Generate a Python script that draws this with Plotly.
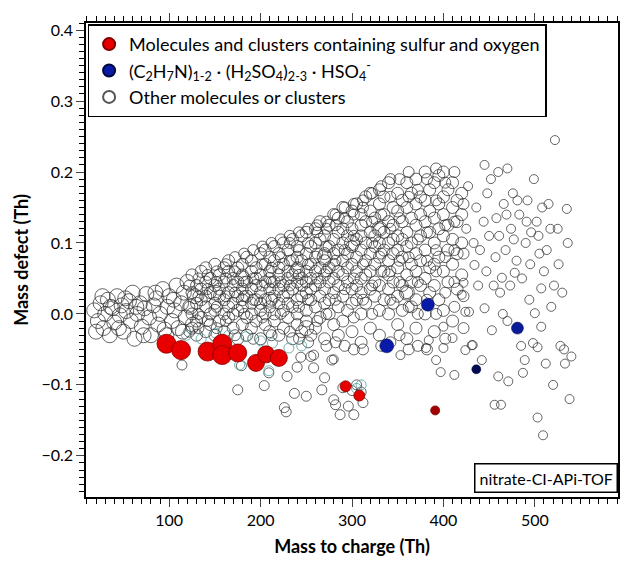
import plotly.graph_objects as go

# ---------------- data ----------------
red_mz = [97, 113, 142, 158, 158, 175, 195, 206, 220, 293, 308, 391]
red_md = [-0.042, -0.051, -0.053, -0.042, -0.058, -0.055, -0.069, -0.057, -0.062, -0.102, -0.115, -0.136]

blue_mz = [383, 338, 436, 481]
blue_md = [0.013, -0.045, -0.078, -0.020]

big_mz = [18, 22, 25, 28, 30, 33, 35, 38, 40, 43, 46, 48, 50, 53, 56, 58, 60, 62, 65, 68, 70, 73, 75, 78, 80,
          83, 86, 88, 90, 93, 95, 98, 100, 103, 106, 108, 110, 113, 116, 118, 120, 123, 126, 128,
          150, 180, 210, 240, 270, 300, 330, 360, 250,
          20, 27, 36, 45, 52, 64, 72, 85, 97, 105, 115]
big_md = [0.005, -0.01, 0.015, -0.02, 0.0, 0.02, -0.03, 0.008, -0.012, 0.025, -0.002, 0.012, -0.025, 0.004, 0.018,
          -0.01, 0.03, -0.035, 0.0, 0.015, -0.018, 0.008, 0.028, -0.005, -0.03, 0.012, 0.022, -0.015, 0.0, 0.035,
          -0.022, 0.01, 0.025, -0.01, 0.005, 0.04, -0.02, 0.015, 0.03, -0.005, 0.045, 0.01, -0.015, 0.025,
          0.03, 0.05, 0.02, 0.06, 0.08, 0.1, 0.12, 0.03, -0.02,
          -0.025, 0.025, 0.01, -0.02, 0.022, 0.01, -0.03, 0.03, -0.03, 0.02, -0.025]

cloud_cols = {
    125: [0.03, -0.02, 0.055, 0.0],
    130: [-0.01, 0.04, 0.015, -0.03],
    135: [0.02, 0.06, -0.005, 0.035],
    140: [-0.025, 0.01, 0.045, 0.025, 0.065],
    145: [0.0, 0.03, -0.015, 0.05],
    150: [0.015, -0.03, 0.04, 0.07, 0.005],
    155: [0.025, -0.01, 0.055, 0.035],
    160: [0.0, 0.045, -0.025, 0.02, 0.065],
    165: [0.03, 0.01, -0.005, 0.06, 0.075],
    170: [-0.02, 0.04, 0.015, 0.05, 0.0],
    175: [0.025, -0.035, 0.065, 0.005, 0.045],
    180: [0.01, 0.035, -0.015, 0.07, 0.055, 0.02],
    185: [-0.005, 0.045, 0.025, 0.08, -0.03],
    190: [0.015, 0.06, 0.0, 0.035, -0.02, 0.075],
    195: [0.04, -0.01, 0.02, 0.065, 0.05],
    200: [0.005, 0.03, 0.085, -0.035, 0.055, 0.015],
    205: [0.045, 0.02, -0.015, 0.07, 0.0, 0.09],
    210: [0.035, -0.025, 0.06, 0.01, 0.08, 0.05],
    215: [0.025, 0.0, 0.075, 0.045, -0.01, 0.095],
    220: [0.055, 0.015, -0.03, 0.085, 0.035, 0.065],
    225: [0.005, 0.04, 0.1, 0.07, -0.02, 0.025],
    230: [0.05, 0.09, 0.015, -0.005, 0.06, 0.03],
    235: [0.075, 0.035, -0.035, 0.105, 0.01, 0.055],
    240: [0.02, 0.065, 0.095, 0.0, 0.045, 0.08, -0.015],
    245: [0.11, 0.05, 0.025, -0.025, 0.075, 0.04],
    250: [0.085, 0.005, 0.06, 0.03, 0.115, -0.01, 0.045],
    255: [0.02, 0.095, 0.07, -0.03, 0.05, 0.035],
    260: [0.12, 0.04, 0.08, 0.01, 0.06, -0.02, 0.1],
    265: [0.025, 0.065, 0.105, -0.005, 0.045, 0.13],
    270: [0.085, 0.015, 0.055, 0.11, -0.035, 0.035, 0.075],
    275: [0.0, 0.095, 0.045, 0.125, 0.065, 0.02],
    280: [0.14, 0.07, 0.03, -0.015, 0.105, 0.05, 0.085],
    285: [0.01, 0.115, 0.06, 0.04, 0.135, -0.03, 0.09],
    290: [0.075, 0.025, 0.12, 0.15, 0.055, 0.1, -0.01],
    295: [0.045, 0.13, 0.005, 0.085, 0.065, 0.11],
    300: [0.145, 0.035, 0.095, -0.025, 0.07, 0.12, 0.015],
    305: [0.06, 0.105, 0.155, 0.02, 0.08, 0.04],
    310: [0.125, 0.0, 0.09, 0.05, 0.14, 0.03, 0.11, -0.04],
    315: [0.075, 0.165, 0.015, 0.1, 0.055, 0.13],
    320: [0.035, 0.115, 0.085, 0.145, -0.02, 0.06, 0.17],
    325: [0.095, 0.025, 0.135, 0.07, 0.045, 0.11],
    330: [0.155, 0.005, 0.08, 0.12, 0.04, 0.175, 0.1, -0.03],
    335: [0.06, 0.14, 0.02, 0.09, 0.165, 0.115],
    340: [0.13, 0.075, 0.035, 0.185, 0.1, 0.0, 0.055],
    345: [0.105, 0.15, 0.045, 0.085, 0.015, 0.125],
    350: [0.17, 0.065, 0.11, 0.025, 0.145, -0.015, 0.09],
    355: [0.04, 0.13, 0.08, 0.16, 0.005, 0.105],
    360: [0.115, 0.185, 0.055, 0.095, 0.03, 0.15, -0.035],
    365: [0.07, 0.135, 0.01, 0.17, 0.045, 0.1],
    370: [0.155, 0.085, 0.02, 0.125, 0.06, -0.02, 0.19],
    375: [0.11, 0.04, 0.14, 0.075, 0.165],
    380: [0.2, 0.05, 0.13, 0.09, 0.0, 0.16],
    385: [0.065, 0.115, 0.175, 0.03, 0.145],
    390: [0.185, 0.1, 0.04, 0.135, 0.07, -0.025],
    395: [0.155, 0.08, 0.12, 0.02, 0.195],
    400: [0.11, 0.06, 0.165, 0.005, 0.14, 0.2],
    405: [0.09, 0.175, 0.045, 0.125],
    410: [0.15, 0.07, 0.105, -0.01, 0.185],
    415: [0.13, 0.035, 0.16, 0.085],
    420: [0.1, 0.17, 0.055, 0.14],
}

cloud2_cols = {
    122: [0.01, 0.04, -0.025],
    132: [0.05, 0.0, 0.025, -0.02],
    142: [0.035, -0.01, 0.055],
    152: [0.06, 0.01, -0.02, 0.045],
    162: [0.025, 0.07, -0.01, 0.05],
    172: [0.06, 0.03, 0.08, -0.03],
    182: [0.045, 0.0, 0.085, 0.025],
    192: [0.09, 0.05, 0.02, -0.035],
    202: [0.07, 0.04, 0.095, -0.005],
    212: [0.1, 0.065, 0.02, -0.03, 0.045],
    222: [0.105, 0.08, 0.045, 0.0],
    232: [0.11, 0.075, 0.04, -0.025, 0.1],
    242: [0.115, 0.055, 0.01, 0.09, -0.035],
    252: [0.12, 0.1, 0.07, 0.02, -0.04],
    262: [0.125, 0.085, 0.05, 0.115, -0.01],
    272: [0.13, 0.12, 0.095, 0.06, 0.0, -0.045],
    282: [0.14, 0.125, 0.02, 0.075, -0.04],
    292: [0.15, 0.135, 0.09, 0.035, -0.045],
    302: [0.155, 0.14, 0.11, 0.05, -0.005, -0.05],
    312: [0.16, 0.15, 0.07, 0.02, -0.05],
    322: [0.17, 0.1, 0.13, 0.04, 0.0],
    332: [0.18, 0.14, 0.06, 0.085, -0.045],
    342: [0.165, 0.19, 0.12, 0.06, -0.04, 0.02],
    352: [0.19, 0.135, 0.075, 0.045, -0.03],
    362: [0.2, 0.165, 0.08, 0.01, -0.05],
    372: [0.175, 0.105, 0.045, -0.045, 0.0],
    382: [0.19, 0.115, 0.075, 0.02, -0.05],
    392: [0.205, 0.16, 0.06, 0.0, 0.09],
    402: [0.185, 0.125, 0.08, 0.03, -0.035],
    412: [0.13, 0.2, 0.045, 0.09, 0.01],
    422: [0.155, 0.085, 0.025, -0.02],
}

sparse_mz = [425, 428, 432, 434, 436, 440, 442, 445, 448, 450, 453, 455, 456, 458, 460, 462, 463, 464, 466, 468,
             470, 471, 474, 476, 478, 480, 483, 485, 487, 489, 490, 492, 494, 496, 498, 500, 502, 503, 503, 505,
             507, 507, 509, 510, 512, 515, 518, 520, 522, 525, 528, 530, 532, 535, 538, 540,
             400, 410, 392, 412, 397, 384, 381, 400, 353, 280, 424, 431, 420, 422, 424,
             427, 433, 438, 444, 447, 452, 457, 461, 465, 469, 473, 477, 481, 486, 491, 495, 499, 504, 508,
             513, 517, 521, 526, 533, 536, 470, 445, 460]
sparse_md = [0.12, 0.003, -0.044, 0.069, 0.15, 0.09, -0.065, 0.008, 0.17, 0.11, -0.023, 0.04, -0.128, 0.135,
             -0.088, 0.03, -0.128, 0.051, 0.155, 0.09, -0.01, -0.095, 0.12, 0.17, 0.058, 0.075, 0.14, -0.045,
             -0.083, -0.065, 0.1, 0.16, 0.02, 0.115, -0.041, 0.001, 0.13, -0.047, -0.146, 0.085, 0.036, -0.018,
             -0.171, 0.06, -0.07, 0.155, 0.01, -0.1, 0.245, 0.12, -0.045, 0.03, -0.05, 0.148, -0.12, -0.06,
             -0.018, -0.034, -0.065, -0.086, -0.082, -0.037, -0.048, -0.048, -0.058, -0.064, -0.051, -0.044,
             0.027, 0.044, 0.003,
             0.18, 0.1, 0.04, 0.13, 0.06, 0.19, 0.08, 0.11, 0.0, 0.14, 0.04, 0.105, 0.16, 0.05, 0.13, 0.07,
             0.19, 0.11, 0.15, 0.09, 0.12, 0.04, 0.07, -0.07, 0.1, 0.205, 0.21, 0.2]

low_mz = [114, 179, 209, 229, 175, 204, 250, 237, 226, 228, 267, 280, 287, 302, 282, 258, 278, 255, 258, 244,
          290, 300, 305, 310, 312, 296, 270, 240]
low_md = [-0.072, -0.073, -0.083, -0.088, -0.107, -0.101, -0.116, -0.112, -0.132, -0.138, -0.107, -0.121,
          -0.142, -0.142, -0.128, -0.058, -0.065, -0.06, -0.076, -0.061, -0.104, -0.108, -0.1, -0.11, -0.125,
          -0.13, -0.09, -0.075]

teal_mz = [119, 151, 184, 213, 231, 177, 209, 135, 165, 200, 245, 310, 305]
teal_md = [-0.03, -0.027, -0.032, -0.041, -0.048, -0.072, -0.08, -0.035, -0.03, -0.038, -0.045, -0.1, -0.105]

# ---------------- styles ----------------
red_sizes = [19, 19, 19, 19, 19, 18, 17, 17, 17, 11, 11, 9]
red_colors = ["#e80000"] * 11 + ["#a00000"]
blue_sizes = [13, 14, 9, 12]
blue_colors = ["#0a1aa8", "#0a1aa8", "#000a50", "#0a1a98"]


def flatten(cols):
    xs, ys = [], []
    for m, vals in cols.items():
        for v in vals:
            xs.append(m)
            ys.append(v)
    return xs, ys


c1x, c1y = flatten(cloud_cols)
c2x, c2y = flatten(cloud2_cols)

gray = "rgba(50,50,50,0.75)"
fig = go.Figure()


def hollow(x, y, size, color=gray):
    fig.add_trace(go.Scatter(x=x, y=y, mode="markers", showlegend=False, hoverinfo="skip",
                             marker=dict(symbol="circle-open", size=size, color=color, line=dict(width=1))))


hollow(big_mz, big_md, 15)
hollow(c1x, c1y, 12)
hollow(c2x, c2y, 11)
hollow(sparse_mz, sparse_md, 9)
hollow(low_mz, low_md, 10)
hollow(teal_mz, teal_md, 10, "rgba(80,160,160,0.8)")

fig.add_trace(go.Scatter(x=red_mz, y=red_md, mode="markers",
                         name="Molecules and clusters containing sulfur and oxygen",
                         marker=dict(size=red_sizes, color=red_colors, opacity=1,
                                     line=dict(width=0.8, color="#800000"))))
fig.add_trace(go.Scatter(x=blue_mz, y=blue_md, mode="markers",
                         name="(C<sub>2</sub>H<sub>7</sub>N)<sub>1-2</sub> · (H<sub>2</sub>SO<sub>4</sub>)<sub>2-3</sub> · HSO<sub>4</sub><sup>-</sup>",
                         marker=dict(size=blue_sizes, color=blue_colors, opacity=1,
                                     line=dict(width=0.5, color="#000840"))))
fig.add_trace(go.Scatter(x=[None], y=[None], mode="markers", name="Other molecules or clusters",
                         marker=dict(symbol="circle-open", size=12, color="#555", line=dict(width=1))))

font_family = "Lato, 'Open Sans', sans-serif"
fig.update_layout(
    width=622, height=563,
    margin=dict(l=86, r=2, t=23, b=66),
    paper_bgcolor="white", plot_bgcolor="white",
    font=dict(family=font_family, color="black", size=16),
    legend=dict(x=0.003, y=0.997, xanchor="left", yanchor="top",
                bordercolor="black", borderwidth=1.5, bgcolor="white",
                font=dict(size=18), itemsizing="constant", tracegroupgap=0),
    annotations=[dict(text="nitrate-CI-APi-TOF", xref="paper", yref="paper", x=1, y=0,
                      xanchor="right", yanchor="bottom", yshift=4, showarrow=False,
                      bordercolor="black", borderwidth=1.5, borderpad=4, bgcolor="white",
                      font=dict(size=16, color="black"))],
)
fig.update_xaxes(range=[9, 591], dtick=100, tick0=0, ticks="outside", ticklen=8, tickwidth=1.2,
                 minor=dict(dtick=10, ticklen=5, ticks="outside", tickcolor="black"),
                 showline=True, linecolor="black", linewidth=1.5, mirror="ticks",
                 showgrid=False, zeroline=False, tickfont=dict(size=16),
                 title=dict(text="<b>Mass to charge (Th)</b>", font=dict(size=18), standoff=12))
fig.update_yaxes(range=[-0.258, 0.41], dtick=0.1, tick0=0, tickformat=".1f", ticks="outside", ticklen=8,
                 tickwidth=1.2, minor=dict(dtick=0.01, ticklen=5, ticks="outside", tickcolor="black"),
                 showline=True, linecolor="black", linewidth=1.5, mirror=True,
                 showgrid=False, zeroline=False, tickfont=dict(size=16),
                 title=dict(text="<b>Mass defect (Th)</b>", font=dict(size=18), standoff=8))

fig.write_html("out.html")
